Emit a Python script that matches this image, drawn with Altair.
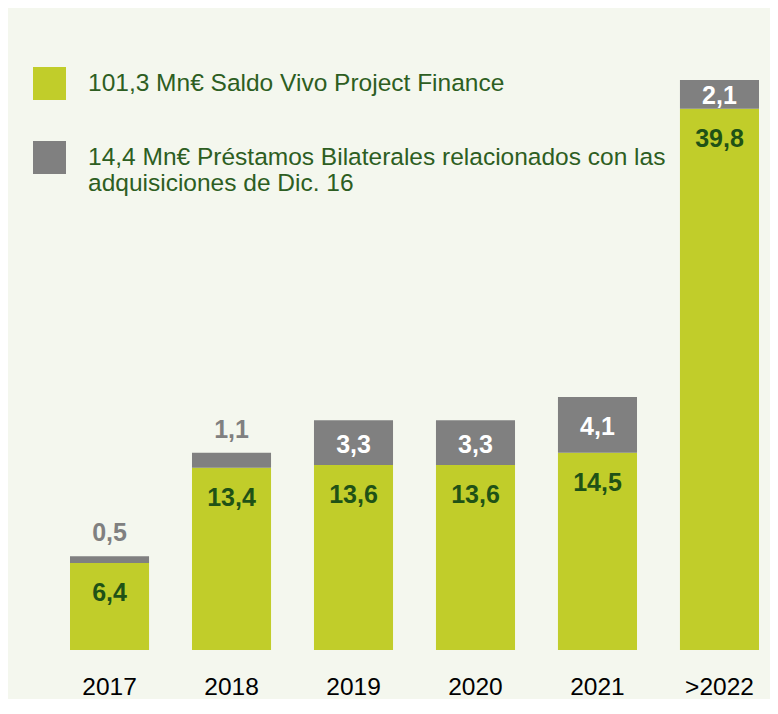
import altair as alt
import pandas as pd

# ---- data ----
years = ["2017", "2018", "2019", "2020", "2021", ">2022"]
project_finance = [6.4, 13.4, 13.6, 13.6, 14.5, 39.8]
bilateral = [0.5, 1.1, 3.3, 3.3, 4.1, 2.1]
series_names = [
    "101,3 Mn€ Saldo Vivo Project Finance",
    "14,4 Mn€ Préstamos Bilaterales relacionados con las\nadquisiciones de Dic. 16",
]

FONT = "Liberation Sans, Arial, sans-serif"
GREEN = "#c1cd2a"
GREY = "#808080"
DARK = "#1f5216"
LEG = "#2d5e22"
BG = "#f4f7ee"

wide = pd.DataFrame({"year": years, "pf": project_finance, "bil": bilateral})
long = pd.concat(
    [
        pd.DataFrame({"year": years, "series": series_names[0], "value": project_finance, "ord": 0}),
        pd.DataFrame({"year": years, "series": series_names[1], "value": bilateral, "ord": 1}),
    ],
    ignore_index=True,
)

x = alt.X(
    "year:N",
    sort=years,
    scale=alt.Scale(paddingInner=0.352, paddingOuter=0.2172, align=0.7925),
    axis=alt.Axis(
        title=None, labelAngle=0, ticks=False, domain=False, tickSize=0,
        labelPadding=25, labelFontSize=24.5, labelFont=FONT, labelColor="#000000",
        grid=False,
    ),
)
yscale = alt.Scale(domain=[0, 47.2], nice=False)

bars = alt.Chart(long).mark_bar().encode(
    x=x,
    y=alt.Y("value:Q", stack="zero", scale=yscale, axis=None),
    color=alt.Color(
        "series:N",
        scale=alt.Scale(domain=series_names, range=[GREEN, GREY]),
        legend=alt.Legend(
            title=None, orient="none", legendX=5, legendY=59,
            direction="vertical", symbolType="square", symbolSize=1089,
            symbolStrokeWidth=0, symbolOpacity=1, labelFont=FONT,
            labelFontSize=24.5, labelColor=LEG, labelLimit=800, labelOffset=22,
            rowPadding=41, labelBaseline="middle", padding=0,
            labelExpr="split(datum.label, '\\n')",
        ),
    ),
    order=alt.Order("ord:Q"),
)

base = alt.Chart(wide).transform_calculate(
    pf_label="replace(format(datum.pf, '.1f'), '.', ',')",
    bil_label="replace(format(datum.bil, '.1f'), '.', ',')",
    bil_mid="datum.pf + datum.bil / 2",
    top="datum.pf + datum.bil",
)

green_text = base.mark_text(
    font=FONT, fontSize=25, fontWeight="bold", color=DARK, baseline="middle", dy=30
).encode(x=x, y=alt.Y("pf:Q", scale=yscale, axis=None), text="pf_label:N")

grey_in = base.transform_filter("datum.bil >= 2").mark_text(
    font=FONT, fontSize=25, fontWeight="bold", color="#ffffff", baseline="middle", dy=2
).encode(x=x, y=alt.Y("bil_mid:Q", scale=yscale, axis=None), text="bil_label:N")

grey_out = base.transform_filter("datum.bil < 2").mark_text(
    font=FONT, fontSize=25, fontWeight="bold", color=GREY, baseline="middle", dy=-23
).encode(x=x, y=alt.Y("top:Q", scale=yscale, axis=None), text="bil_label:N")

chart = (
    alt.layer(bars, green_text, grey_in, grey_out)
    .properties(width=742, height=642, padding={"left": 20, "top": 0, "right": 0, "bottom": 0})
    .configure(background=BG)
    .configure_view(stroke=None)
)

chart.save("out.html", embed_options={"renderer": "svg", "actions": False})
